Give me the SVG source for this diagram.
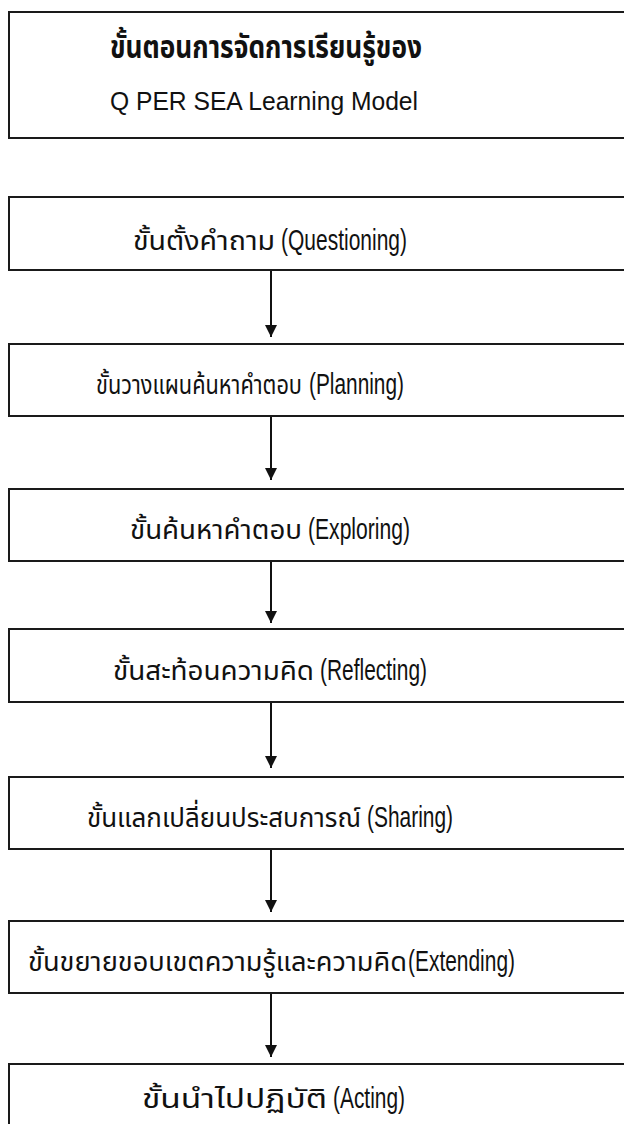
<svg xmlns="http://www.w3.org/2000/svg" width="624" height="1124" viewBox="0 0 624 1124">
<style>
.box{fill:#ffffff;stroke:#1a1a1a;stroke-width:2}
.th{font-family:"Noto Sans Thai","Noto Sans Thai Looped","Liberation Sans",sans-serif;font-size:27px;fill:#111}
.en{font-family:"Liberation Sans",Arial,sans-serif;font-size:30px;fill:#111}
.hd1{font-family:"Noto Sans Thai","Liberation Sans",sans-serif;font-size:31px;font-weight:bold;fill:#111;text-anchor:middle}
.hd2{font-family:"Liberation Sans",Arial,sans-serif;font-size:25px;fill:#111;text-anchor:middle}
.conn{stroke:#111;stroke-width:2;fill:none;marker-end:url(#ah)}
</style>
<defs>
<marker id="ah" viewBox="0 0 12 15" refX="12" refY="6" markerWidth="12" markerHeight="15" markerUnits="userSpaceOnUse" orient="auto">
<path d="M0,0 L12,6 L0,12 Z" fill="#111"/>
</marker>
</defs>
<rect width="624" height="1124" fill="#ffffff"/>
<g id="header">
<rect class="box" x="9" y="12" width="640" height="126"/>
<text class="hd1" x="266" y="58" textLength="312" lengthAdjust="spacingAndGlyphs">ขั้นตอนการจัดการเรียนรู้ของ</text>
<text class="hd2" x="264" y="110" textLength="308" lengthAdjust="spacingAndGlyphs">Q PER SEA Learning Model</text>
</g>
<g id="connectors">
<line class="conn" x1="271" y1="270" x2="271" y2="337"/>
<line class="conn" x1="271" y1="416" x2="271" y2="480"/>
<line class="conn" x1="271" y1="561" x2="271" y2="623"/>
<line class="conn" x1="271" y1="702" x2="271" y2="768"/>
<line class="conn" x1="271" y1="849" x2="271" y2="912"/>
<line class="conn" x1="271" y1="993" x2="271" y2="1057"/>
</g>
<g id="step1">
<rect class="box" x="9" y="197" width="640" height="73"/>
<text class="th" x="133" y="250" textLength="142" lengthAdjust="spacingAndGlyphs">ขั้นตั้งคำถาม</text>
<text class="en" x="281" y="250" textLength="126" lengthAdjust="spacingAndGlyphs">(Questioning)</text>
</g>
<g id="step2">
<rect class="box" x="9" y="344" width="640" height="72"/>
<text class="th" x="96" y="394" textLength="206" lengthAdjust="spacingAndGlyphs">ขั้นวางแผนค้นหาคำตอบ</text>
<text class="en" x="309" y="394" textLength="95" lengthAdjust="spacingAndGlyphs">(Planning)</text>
</g>
<g id="step3">
<rect class="box" x="9" y="489" width="640" height="72"/>
<text class="th" x="130" y="539" textLength="172" lengthAdjust="spacingAndGlyphs">ขั้นค้นหาคำตอบ</text>
<text class="en" x="308" y="539" textLength="102" lengthAdjust="spacingAndGlyphs">(Exploring)</text>
</g>
<g id="step4">
<rect class="box" x="9" y="629" width="640" height="73"/>
<text class="th" x="113" y="680" textLength="201" lengthAdjust="spacingAndGlyphs">ขั้นสะท้อนความคิด</text>
<text class="en" x="320" y="680" textLength="107" lengthAdjust="spacingAndGlyphs">(Reflecting)</text>
</g>
<g id="step5">
<rect class="box" x="9" y="777" width="640" height="72"/>
<text class="th" x="87" y="827" textLength="274" lengthAdjust="spacingAndGlyphs">ขั้นแลกเปลี่ยนประสบการณ์</text>
<text class="en" x="367" y="827" textLength="86" lengthAdjust="spacingAndGlyphs">(Sharing)</text>
</g>
<g id="step6">
<rect class="box" x="9" y="921" width="640" height="72"/>
<text class="th" x="28" y="971" textLength="379" lengthAdjust="spacingAndGlyphs">ขั้นขยายขอบเขตความรู้และความคิด</text>
<text class="en" x="408" y="971" textLength="107" lengthAdjust="spacingAndGlyphs">(Extending)</text>
</g>
<g id="step7">
<rect class="box" x="9" y="1064" width="640" height="72"/>
<text class="th" x="142" y="1108" textLength="185" lengthAdjust="spacingAndGlyphs">ขั้นนำไปปฏิบัติ</text>
<text class="en" x="333" y="1108" textLength="72" lengthAdjust="spacingAndGlyphs">(Acting)</text>
</g>
</svg>
